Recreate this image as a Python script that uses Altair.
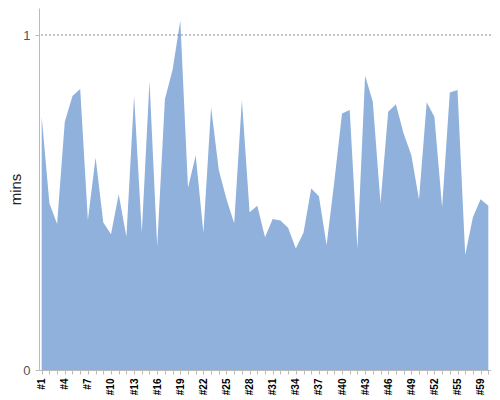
import altair as alt
import pandas as pd

categories = [f"#{i}" for i in range(1, 57)] + ["#57", "#59", "#60"]
values = [0.756, 0.498, 0.436, 0.741, 0.818, 0.839, 0.448, 0.634, 0.440, 0.405,
          0.525, 0.398, 0.818, 0.410, 0.863, 0.370, 0.808, 0.896, 1.043, 0.544,
          0.640, 0.410, 0.784, 0.597, 0.510, 0.438, 0.806, 0.471, 0.490, 0.396,
          0.451, 0.446, 0.425, 0.363, 0.410, 0.542, 0.519, 0.373, 0.562, 0.766,
          0.776, 0.363, 0.878, 0.801, 0.498, 0.771, 0.793, 0.706, 0.642, 0.509,
          0.799, 0.756, 0.486, 0.828, 0.836, 0.343, 0.456, 0.510, 0.490]
shown_labels = categories[::3]
y_ticks = [0, 1]

df = pd.DataFrame({"run": categories, "mins": values})
ref = pd.DataFrame({"y": [1]})

shown_expr = "indexof([" + ",".join(f"'{s}'" for s in shown_labels) + "], datum.value) >= 0 ? datum.label : ''"

area = alt.Chart(df).mark_area(color="#8fb1db", opacity=1).encode(
    x=alt.X("run:N", sort=categories,
            scale=alt.Scale(type="point", padding=0.35),
            axis=alt.Axis(title=None, labelAngle=-90, labelExpr=shown_expr,
                          labelFontSize=10, labelColor="#000", labelFont="Liberation Sans",
                          labelFontWeight="bold", labelPadding=4,
                          domainColor="#bbb", tickColor="#bbb", tickSize=4,
                          labelOverlap=False, grid=False)),
    y=alt.Y("mins:Q", scale=alt.Scale(domain=[0, 1.0806], nice=False, zero=True),
            axis=alt.Axis(title="mins", values=y_ticks, format="d", grid=False,
                          titleFont="Liberation Sans", titleFontSize=15,
                          titleFontWeight="normal", titleColor="#222",
                          titleX=-24, titleY=181, titleAngle=-90,
                          titleAlign="center", titleBaseline="middle",
                          labelFont="Liberation Sans", labelFontSize=13, labelColor="#555",
                          domainColor="#bbb", tickColor="#bbb", tickSize=4, labelPadding=5)),
)

rule = alt.Chart(ref).mark_rule(color="#888", strokeDash=[2, 2], strokeWidth=1).encode(
    y=alt.Y("y:Q")
)

chart = alt.layer(area, rule).properties(
    width=452, height=362,
    autosize=alt.AutoSizeParams(type="none"),
    padding={"left": 31, "top": 0, "right": 0, "bottom": 30},
).configure_view(stroke=None)

chart.save("out.html", embed_options={"renderer": "svg", "actions": False})
